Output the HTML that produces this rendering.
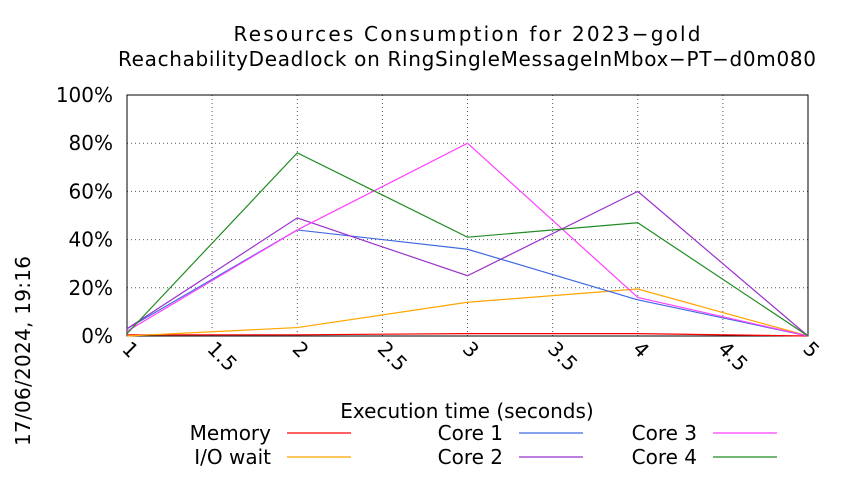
<!DOCTYPE html>
<html><head><meta charset="utf-8"><style>
body{margin:0;background:#fff;}
svg text{font-family:"DejaVu Sans","Liberation Sans",sans-serif;fill:#000;}
</style></head><body>
<svg id="c" width="850" height="475" viewBox="0 0 850 475" xmlns="http://www.w3.org/2000/svg">
<text x="467" y="41" font-size="20" text-anchor="middle" textLength="467">Resources Consumption for 2023−gold</text>
<text x="467" y="66" font-size="20" text-anchor="middle" textLength="698">ReachabilityDeadlock on RingSingleMessageInMbox−PT−d0m080</text>
<text x="467" y="418" font-size="20" text-anchor="middle">Execution time (seconds)</text>
<text transform="translate(30,446) rotate(-90)" font-size="20" textLength="190">17/06/2024, 19:16</text>
<g id="grid"></g><g id="series"></g><g id="legend"></g>
</svg>
<script>
const xs=[1,2,3,4,5];
const xTicks=[1,1.5,2,2.5,3,3.5,4,4.5,5];
const yTicks=[0,20,40,60,80,100];
const names=["Memory","I/O wait","Core 1","Core 2","Core 3","Core 4"];
const colors=["#ff0000","#ffa500","#4169e1","#9932cc","#ff40ff","#228b22"];
const memory=[0.5,0.5,1,1,0];
const iowait=[0,3.5,14,19.5,0];
const core1=[3,44,36,15,0];
const core2=[3,49,25,60,0];
const core3=[2,44,80,16,0];
const core4=[1,76,41,47,0];
const series=[memory,iowait,core1,core2,core3,core4];
const L=127,R=808,T=95,B=336;
const sx=v=>L+(v-1)/4*(R-L), sy=v=>B-v/100*(B-T);
const NS="http://www.w3.org/2000/svg";
function mk(p,t,a){const e=document.createElementNS(NS,t);for(const k in a)e.setAttribute(k,a[k]);p.appendChild(e);return e;}
const g=document.getElementById('grid');
xTicks.forEach(v=>{
 const x=sx(v);
 const l=mk(g,'line',{x1:x,x2:x,y1:T,y2:B,stroke:'#555','stroke-dasharray':'1,3','stroke-width':1});
 
 
 const t=mk(g,'text',{transform:`translate(${x-6},${B+14}) rotate(45)`,'font-size':20});
 t.textContent=v;
 
 
});
yTicks.forEach(v=>{
 const y=sy(v);
 const l=mk(g,'line',{x1:L,x2:R,y1:y,y2:y,stroke:'#555','stroke-dasharray':'1,3','stroke-width':1});
 
 
 const t=mk(g,'text',{x:L-14,y:y+7,'font-size':20,'text-anchor':'end'});
 t.textContent=v+'%';
 
 
});
const fr=mk(g,'rect',{x:L,y:T,width:R-L,height:B-T,fill:'none',stroke:'#000','stroke-width':1});


const s=document.getElementById('series');
series.forEach((d,i)=>{
 const p=mk(s,'polyline',{points:d.map((v,j)=>sx(xs[j])+','+sy(v)).join(' '),fill:'none',stroke:colors[i],'stroke-width':1.2});
 
 
});
const lg=document.getElementById('legend');
const lx=[271,503,697], ly=[440,464];
names.forEach((n,i)=>{
 const c=Math.floor(i/2), r=i%2;
 const t=mk(lg,'text',{x:lx[c],y:ly[r],'font-size':20,'text-anchor':'end'});
 t.textContent=n;
 
 
 const l=mk(lg,'line',{x1:lx[c]+16,x2:lx[c]+80,y1:ly[r]-7,y2:ly[r]-7,stroke:colors[i],'stroke-width':1.2});
 
 
});
</script>
</body></html>
